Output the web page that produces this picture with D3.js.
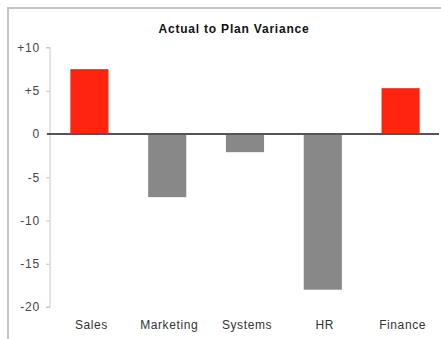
<!DOCTYPE html>
<html>
<head>
<meta charset="utf-8">
<script src="https://cdn.jsdelivr.net/npm/d3@7"></script>
<style>
html,body{margin:0;padding:0;background:#fff;}
svg{display:block;}
text{font-family:"Liberation Sans",Arial,Helvetica,sans-serif;}
</style>
</head>
<body>
<svg id="chart" width="441" height="339"></svg>
<script>
const categories = ["Sales", "Marketing", "Systems", "HR", "Finance"];
const variance = [7.5, -7.3, -2.1, -18.0, 5.3];
const tickValues = [10, 5, 0, -5, -10, -15, -20];
const tickLabels = ["+10", "+5", "0", "-5", "-10", "-15", "-20"];
const title = "Actual to Plan Variance";

const svg = d3.select("#chart");
const W = 441, H = 339;

// frame (top and left border)
svg.append("line").attr("x1", 7).attr("x2", W).attr("y1", 8).attr("y2", 8)
  .attr("stroke", "#c4c4c4").attr("stroke-width", 2);
svg.append("line").attr("x1", 8).attr("x2", 8).attr("y1", 7).attr("y2", H)
  .attr("stroke", "#c4c4c4").attr("stroke-width", 2);

const x = d3.scaleBand().domain(categories).range([50.5, 439.5]).paddingInner(0.51).paddingOuter(0.255);
const y = d3.scaleLinear().domain([-20, 10]).range([307, 47.5]);

// title
svg.append("text").attr("x", 234).attr("y", 33).attr("text-anchor", "middle")
  .attr("font-size", 12).attr("font-weight", "bold").attr("letter-spacing", 0.8)
  .attr("fill", "#111").text(title);

// y axis
const yAxis = d3.axisLeft(y).tickValues(tickValues).tickSize(4).tickPadding(6)
  .tickFormat((d, i) => tickLabels[i]);
const gy = svg.append("g").attr("transform", "translate(50,0)").call(yAxis);
gy.select(".domain").attr("stroke", "#c8c8c8").attr("d", `M-4,${y(10)}H0V${y(-20)}H-4`);
gy.selectAll(".tick line").attr("stroke", "#c8c8c8");
gy.selectAll(".tick text").attr("font-size", 12).attr("fill", "#444").attr("letter-spacing", 0.8)
  .attr("font-family", "Liberation Sans, Arial, sans-serif");

// bars
svg.selectAll("rect.bar").data(categories).enter().append("rect").attr("class", "bar")
  .attr("x", d => x(d))
  .attr("width", x.bandwidth())
  .attr("y", (d, i) => y(Math.max(0, variance[i])))
  .attr("height", (d, i) => Math.abs(y(variance[i]) - y(0)))
  .attr("fill", (d, i) => variance[i] >= 0 ? "#ff2410" : "#888888");

// zero line
svg.append("line").attr("x1", 47).attr("x2", 439).attr("y1", y(0)).attr("y2", y(0))
  .attr("stroke", "#555").attr("stroke-width", 2);

// category labels
const xAxis = d3.axisBottom(x).tickSize(0).tickPadding(0);
const gx = svg.append("g").attr("transform", "translate(2,320)").call(xAxis);
gx.select(".domain").remove();
gx.selectAll(".tick text").attr("font-size", 12).attr("fill", "#333").attr("letter-spacing", 0.6)
  .attr("font-family", "Liberation Sans, Arial, sans-serif");
</script>
</body>
</html>
